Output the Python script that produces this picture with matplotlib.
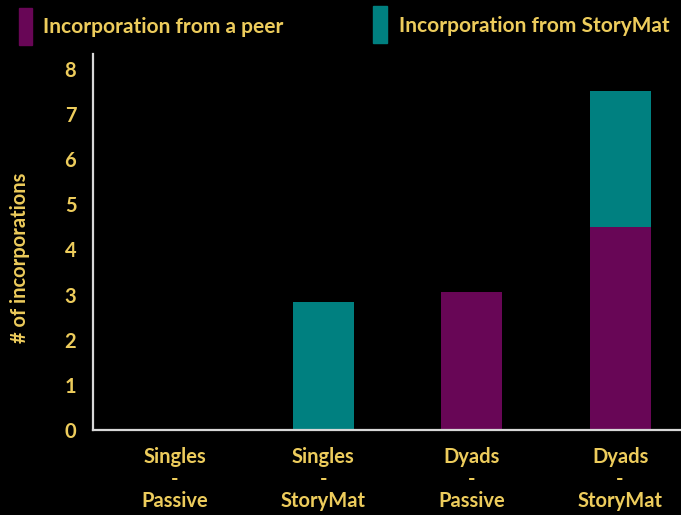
import matplotlib
matplotlib.use("Agg")
import matplotlib.pyplot as plt
from matplotlib.patches import Rectangle

categories = ["Singles\n-\nPassive", "Singles\n-\nStoryMat", "Dyads\n-\nPassive", "Dyads\n-\nStoryMat"]
peer_values = [0.0, 0.0, 3.05, 4.5]
storymat_values = [0.0, 2.83, 0.0, 3.0]
y_ticks = [0, 1, 2, 3, 4, 5, 6, 7, 8]
series_names = ["Incorporation from a peer", "Incorporation from StoryMat"]

PURPLE = "#680656"
TEAL = "#008080"
YELLOW = "#EDCC5C"
AXIS = "#d8d8d8"

plt.rcParams["font.family"] = ["Lato", "DejaVu Sans"]
plt.rcParams["font.weight"] = "bold"

fig = plt.figure(figsize=(6.81, 5.15), dpi=100, facecolor="black")
ax = fig.add_axes([93 / 681, 85 / 515, 1 - 93 / 681, (430 - 54) / 515])
ax.set_facecolor("black")

x = list(range(len(categories)))
width = 0.41
b1 = ax.bar(x, peer_values, width=width, color=PURPLE, clip_on=False, zorder=2)
b2 = ax.bar(x, storymat_values, width=width, bottom=peer_values, color=TEAL,
            clip_on=False, zorder=2)
for bar, v in zip(list(b1) + list(b2), peer_values + storymat_values):
    if v == 0:
        bar.set_visible(False)

ax.set_xlim(-0.55, 3.41)
ax.set_ylim(0.06, 8.33)
ax.set_yticks(y_ticks)
ax.set_yticklabels([str(t) for t in y_ticks])
ax.set_xticks(x)
ax.set_xticklabels(categories, linespacing=1.12)

ax.tick_params(axis="y", length=0, colors=YELLOW, labelsize=14.5, pad=12)
ax.tick_params(axis="x", length=0, colors=YELLOW, labelsize=14.5, pad=12)
for lbl in ax.get_xticklabels() + ax.get_yticklabels():
    lbl.set_fontweight("bold")

for side in ["top", "right"]:
    ax.spines[side].set_visible(False)
for side in ["left", "bottom"]:
    ax.spines[side].set_color(AXIS)
    ax.spines[side].set_linewidth(1.6)
    ax.spines[side].set_zorder(3)

ax.set_ylabel("# of incorporations", color=YELLOW, fontsize=14.5, fontweight="bold",
              va="center")
ax.yaxis.set_label_coords(-73 / 588, (430 - 258) / 376)

# Legend drawn as colored blocks with captions along the top edge
H = 515
W = 681
fig.patches.append(Rectangle((19 / W, 1 - 45 / H), 13 / W, 37 / H,
                             transform=fig.transFigure, color=PURPLE, zorder=5))
fig.patches.append(Rectangle((373 / W, 1 - 43 / H), 14 / W, 37 / H,
                             transform=fig.transFigure, color=TEAL, zorder=5))
fig.text(43 / W, 1 - 27 / H, series_names[0], color=YELLOW, fontsize=15,
         fontweight="bold", va="center", ha="left")
fig.text(399 / W, 1 - 26 / H, series_names[1], color=YELLOW, fontsize=15,
         fontweight="bold", va="center", ha="left")

fig.savefig("out.png", dpi=100, facecolor="black")
